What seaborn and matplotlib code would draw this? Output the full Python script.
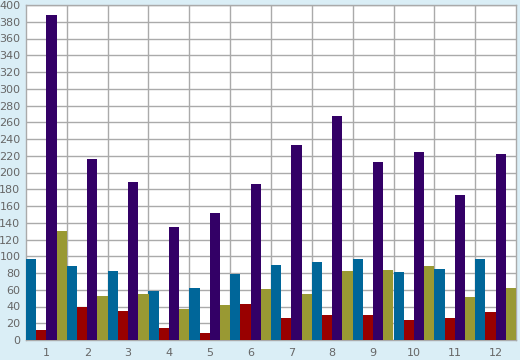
import pandas as pd
import numpy as np
import matplotlib
matplotlib.use("Agg")
import matplotlib.pyplot as plt
import seaborn as sns

# data
categories = ["1", "2", "3", "4", "5", "6", "7", "8", "9", "10", "11", "12"]
series_a = [97, 88, 82, 58, 62, 79, 89, 93, 97, 81, 85, 97]
series_b = [12, 40, 35, 14, 8, 43, 26, 30, 30, 24, 26, 33]
series_c = [388, 216, 189, 135, 152, 186, 233, 268, 212, 225, 173, 222]
series_d = [130, 52, 55, 37, 42, 61, 55, 82, 83, 88, 51, 62]
series_names = ["A", "B", "C", "D"]
palette = ["#006699", "#990000", "#330066", "#999933"]

df = pd.DataFrame({
    "cat": categories * 4,
    "series": np.repeat(series_names, len(categories)),
    "value": series_a + series_b + series_c + series_d,
})

sns.set_style("white")
bg = "#DAEEF6"
grid_col = "#AAAAAA"
text_col = "#666666"

fig = plt.figure(figsize=(5.2, 3.6), dpi=100, facecolor=bg)
ax = fig.add_axes([26 / 520, 20 / 360, 490 / 520, 335 / 360])
ax.set_facecolor("white")

sns.barplot(data=df, x="cat", y="value", hue="series", palette=palette,
            width=1.0, gap=0, dodge=True, saturation=1, legend=False,
            ax=ax, zorder=3)
for p in ax.patches:
    p.set_edgecolor("none")

ax.set_xlim(-0.5, len(categories) - 0.5)
ax.set_ylim(0, 400)
ax.set_yticks(range(0, 401, 20))
ax.set_xlabel("")
ax.set_ylabel("")

ax.set_xticks(np.arange(len(categories)))
ax.set_xticklabels(categories)
ax.set_xticks(np.arange(0.5, len(categories) - 0.5, 1), minor=True)
ax.tick_params(axis="x", which="major", length=0, pad=6, labelsize=8, labelcolor=text_col)
ax.tick_params(axis="x", which="minor", length=5, width=1, color=grid_col, direction="out")
ax.tick_params(axis="y", length=3, width=1, color=grid_col, pad=1, labelsize=8, labelcolor=text_col)

ax.grid(True, axis="y", which="major", color=grid_col, linewidth=1, zorder=0)
ax.grid(True, axis="x", which="minor", color=grid_col, linewidth=1, zorder=0)
ax.grid(False, axis="x", which="major")
ax.set_axisbelow(True)

for s in ax.spines.values():
    s.set_color(grid_col)
    s.set_linewidth(1)

fig.savefig("out.png", dpi=100, facecolor=bg)
